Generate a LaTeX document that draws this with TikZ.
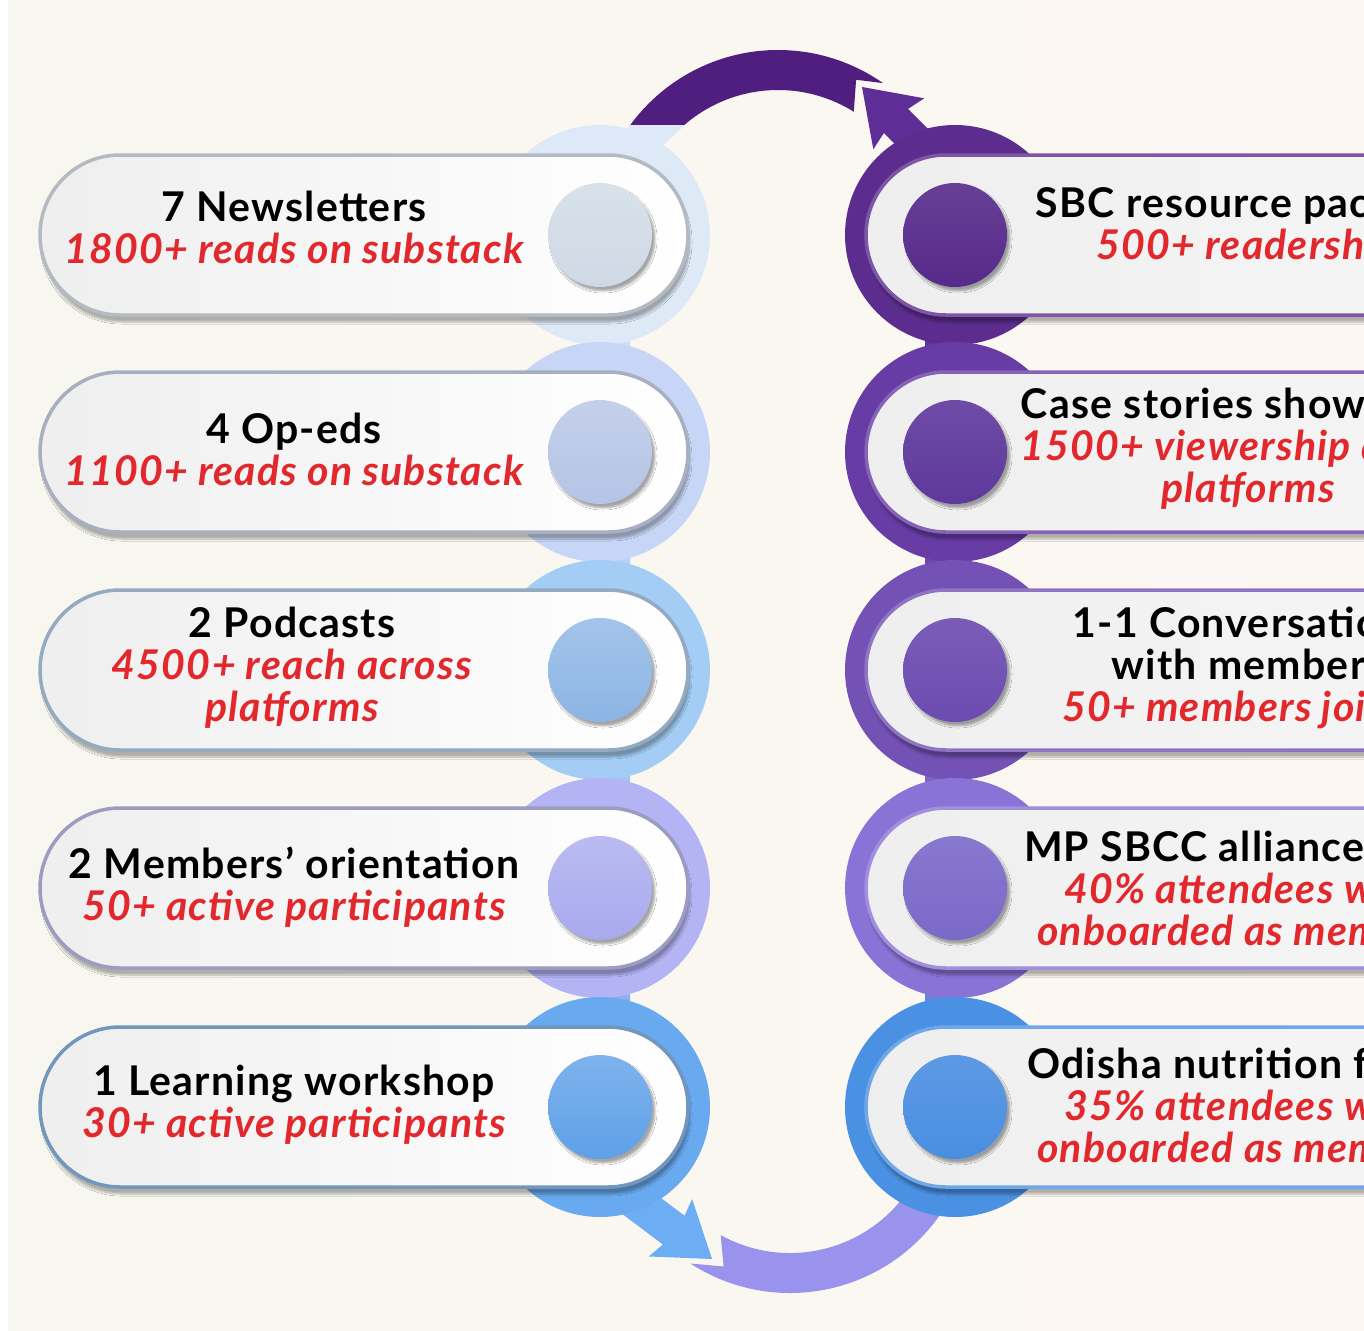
\documentclass[tikz,border=0pt]{standalone}
\usepackage{fontspec}
\setmainfont{Lato}[LetterSpace=3]
\usetikzlibrary{calc,shadows.blur}

% paper
\definecolor{paperL}{HTML}{F7F7EF}
\definecolor{paperM}{HTML}{FCF5F1}
\definecolor{paperR}{HTML}{FDF7F2}
\definecolor{statred}{HTML}{E2282C}
% left column, top to bottom
\definecolor{ringLa}{HTML}{DDE9F7}
\definecolor{ringLb}{HTML}{C7D6F6}
\definecolor{ringLc}{HTML}{A3CDF5}
\definecolor{ringLd}{HTML}{B4B3F4}
\definecolor{ringLe}{HTML}{68A9EF}
\definecolor{dotLa}{HTML}{CFD9E5}
\definecolor{dotLb}{HTML}{B5C4E6}
\definecolor{dotLc}{HTML}{8CB5E5}
\definecolor{dotLd}{HTML}{A8AAEE}
\definecolor{dotLe}{HTML}{5EA0E8}
% right column, top to bottom
\definecolor{ringRa}{HTML}{5C2D8E}
\definecolor{ringRb}{HTML}{683CA5}
\definecolor{ringRc}{HTML}{7451B5}
\definecolor{ringRd}{HTML}{8A73D6}
\definecolor{ringRe}{HTML}{4B91E3}
\definecolor{dotRa}{HTML}{562A8A}
\definecolor{dotRb}{HTML}{5E389C}
\definecolor{dotRc}{HTML}{6C4BB0}
\definecolor{dotRd}{HTML}{7B69C9}
\definecolor{dotRe}{HTML}{4A8EE1}
% loop arrows
\definecolor{loopTop}{HTML}{4F1E7E}
\definecolor{loopTip}{HTML}{5E2D96}
\definecolor{loopBot}{HTML}{9A93EE}
\definecolor{loopBlue}{HTML}{6CADF4}

\newcommand{\stat}[1]{{\color{statred}\itshape #1}}

\begin{document}
\begin{tikzpicture}[x=1pt, y=-1pt,
    ring/.style={circle, minimum size=220pt, inner sep=0pt},
    dot/.style={circle, minimum size=104pt, inner sep=0pt,
        blur shadow={shadow xshift=3pt, shadow yshift=-4pt, shadow opacity=35, shadow blur steps=5}},
    pill/.style={rectangle, rounded corners=80pt, minimum height=160pt, inner sep=0pt, line width=3.5pt,
        blur shadow={shadow xshift=2pt, shadow yshift=-7pt, shadow opacity=30, shadow blur steps=8}},
    pillL/.style={pill, minimum width=648pt, left color=gray!13, right color=white},
    pillR/.style={pill, minimum width=940pt, left color=gray!13, right color=gray!4},
    txt/.style={align=center, font=\fontsize{41}{42}\selectfont\bfseries}
]
\useasboundingbox (0,0) rectangle (1364,1330);

% Paper
\fill[white] (0,0) rectangle (1364,1330);
\shade[left color=paperL, middle color=paperM, right color=paperR] (8,0) rectangle (1364,1330);

% Row centres
\foreach \s/\y in {a/235, b/452, c/670, d/888, e/1107} {
    \coordinate (cL\s) at (600,\y);
    \coordinate (cR\s) at (955,\y);
}
\coordinate (loopT) at (778,233);
\coordinate (loopB) at (790,1110);

% Loop: top arc with notched end, cut flat where it meets the first ring
\begin{scope}
    \clip (0,0) rectangle (1364,125);
    \fill[loopTop] ($(loopT)+(210:183)$) arc[start angle=210, end angle=305, radius=183]
        -- ($(loopT)+(297:172)$) -- ($(loopT)+(302:143)$)
        arc[start angle=302, end angle=210, radius=143] -- cycle;
\end{scope}
% bottom arc
\fill[loopBot] ($(loopB)+(123:183)$) -- ($(loopB)+(113:170)$) -- ($(loopB)+(119:143)$)
    arc[start angle=119, end angle=30, radius=143]
    -- ($(loopB)+(30:183)$) arc[start angle=30, end angle=123, radius=183] -- cycle;

% Arrow heads leaving the rings
\fill[loopTip, shift={(862,87)}, rotate=135]
    (0,0) -- (-52,36) -- (-48,17) -- (-125,17) -- (-125,-17) -- (-48,-17) -- (-52,-36) -- cycle;
\fill[loopBlue, shift={(712,1259)}, rotate=-37]
    (0,0) -- (-52,36) -- (-48,18) -- (-115,18) -- (-115,-18) -- (-48,-18) -- (-52,-36) -- cycle;

% Links between rings
\foreach \a/\b in {a/b, b/c, c/d, d/e} {
    \shade[top color=ringL\a, bottom color=ringL\b] ($(cL\a)+(-8,0)$) rectangle ($(cL\b)+(30,0)$);
    \shade[top color=ringR\a, bottom color=ringR\b] ($(cR\a)+(-30,0)$) rectangle ($(cR\b)+(8,0)$);
}

% Rings
\foreach \s in {a,b,c,d,e} {
    \node[ring, fill=ringL\s] (ringL\s) at (cL\s) {};
    \node[ring, fill=ringR\s] (ringR\s) at (cR\s) {};
}
\fill[ringLa] (630,125) -- (685,125) -- (662,146) -- (620,140) -- cycle;

% Pills and dots
\foreach \s in {a,b,c,d,e} {
    \node[pillL, draw=ringL\s!55!gray] (pillL\s) at ($(cL\s)+(-236,0)$) {};
    \node[pillR, draw=ringR\s!80!white] (pillR\s) at ($(cR\s)+(381,0)$) {};
    \node[dot, top color=dotL\s!80!white, bottom color=dotL\s] (dotL\s) at (cL\s) {};
    \node[dot, top color=dotR\s!90!white, bottom color=dotR\s] (dotR\s) at (cR\s) {};
}

% Left column
\node[txt] (txtLa) at (294,227) {7 Newsletters\\\stat{1800+ reads on substack}};
\node[txt] (txtLb) at (294,449) {4 Op-eds\\\stat{1100+ reads on substack}};
\node[txt] (txtLc) at (292,668) {2 Podcasts\\\stat{4500+ reach across}\\\stat{platforms}};
\node[txt] (txtLd) at (294,887) {2 Members’ orientation\\\stat{50+ active participants}};
\node[txt] (txtLe) at (294,1105) {1 Learning workshop\\\stat{30+ active participants}};

% Right column
\node[txt] (txtRa) at (1248,227) {SBC resource package\\\stat{500+ readership}};
\node[txt] (txtRb) at (1248,449) {Case stories showcased\\\stat{1500+ viewership across}\\\stat{platforms}};
\node[txt] (txtRc) at (1248,668) {1-1 Conversations\\with members\\\stat{50+ members joined}};
\node[txt] (txtRd) at (1248,888) {MP SBCC alliance meet\\\stat{40\% attendees were}\\\stat{onboarded as members}};
\node[txt] (txtRe) at (1248,1105) {Odisha nutrition forum\\\stat{35\% attendees were}\\\stat{onboarded as members}};

\end{tikzpicture}
\end{document}
